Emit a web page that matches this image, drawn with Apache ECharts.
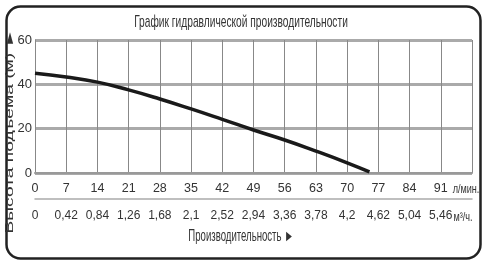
<!DOCTYPE html>
<html><head><meta charset="utf-8">
<script src="https://cdn.jsdelivr.net/npm/echarts@6/dist/echarts.min.js"></script>
<style>html,body{margin:0;padding:0;background:#fff}#c{width:484px;height:265px}</style>
</head><body><div id="c"></div>
<script>
var titleText = 'График гидравлической производительности';
var yName = 'Высота подъема (м) ►';
var xName = 'Производительность ►';
var flowLpmTicks = ['0','7','14','21','28','35','42','49','56','63','70','77','84','91',''];
var flowM3hTicks = ['0','0,42','0,84','1,26','1,68','2,1','2,52','2,94','3,36','3,78','4,2','4,62','5,04','5,46',''];
var unitLpm = 'л/мин.';
var unitM3h = 'м³/ч.';
var curveFlow = [0, 7, 14, 21, 28, 35, 42, 49, 56, 63, 70, 75];
var curveHead = [45, 43.3, 41, 37.5, 33.4, 28.9, 24.2, 19.4, 14.9, 9.9, 4.6, 0.5];

var font = '"Liberation Sans",Arial,sans-serif';
var chart = echarts.init(document.getElementById('c'));
chart.setOption({
  animation: false,
  backgroundColor: '#fff',
  grid: {left: 35, right: 12, top: 40, bottom: 92, outerBoundsMode: 'none', containLabel: false},
  xAxis: [{
    type: 'value', min: 0, max: 98, interval: 7, position: 'bottom',
    axisLine: {show: true, lineStyle: {color: '#999', width: 2}},
    axisTick: {show: false},
    splitLine: {show: true, lineStyle: {color: '#888', width: 1}},
    axisLabel: {margin: 9, fontFamily: font, fontSize: 12.5, color: '#333',
      formatter: function (v) { return flowLpmTicks[Math.round(v / 7)]; }}
  }, {
    type: 'value', min: 0, max: 98, interval: 7, position: 'bottom', offset: 26,
    axisLine: {show: true, lineStyle: {color: '#aaa', width: 1.5}},
    axisTick: {show: false}, splitLine: {show: false},
    axisLabel: {margin: 11, fontFamily: font, fontSize: 12, color: '#333',
      formatter: function (v) { return flowM3hTicks[Math.round(v / 7)]; }}
  }],
  yAxis: {
    type: 'value', min: 0, max: 60, interval: 20,
    axisLine: {show: true, lineStyle: {color: '#888', width: 1}},
    axisTick: {show: false},
    splitLine: {show: true, lineStyle: {color: '#aaa', width: 3}},
    axisLabel: {margin: 3, fontFamily: font, fontSize: 13, color: '#333'}
  },
  graphic: [
    {type: 'rect', left: 4, top: 4, shape: {width: 474, height: 252, r: 14},
      style: {fill: 'none', stroke: '#222', lineWidth: 2.5}, silent: true, z: -1},
    {type: 'text', x: 241, y: 22, scaleX: 0.6,
      style: {text: titleText, font: '17px ' + font, fill: '#333', align: 'center', verticalAlign: 'middle'}},
    {type: 'text', x: 241, y: 237, scaleX: 0.6,
      style: {text: xName, font: '16px ' + font, fill: '#333', align: 'center', verticalAlign: 'middle'}},
    {type: 'text', x: 10.5, y: 131, rotation: Math.PI / 2, scaleX: 1.83,
      style: {text: yName, font: '10.5px ' + font, fill: '#333', align: 'center', verticalAlign: 'middle'}},
    {type: 'text', x: 466, y: 189, scaleX: 0.7,
      style: {text: unitLpm, font: '13px ' + font, fill: '#333', align: 'center', verticalAlign: 'middle'}},
    {type: 'text', x: 463, y: 217, scaleX: 0.7,
      style: {text: unitM3h, font: '13px ' + font, fill: '#333', align: 'center', verticalAlign: 'middle'}}
  ],
  series: [{
    type: 'line', smooth: true, showSymbol: false, xAxisIndex: 0,
    lineStyle: {color: '#1a1a1a', width: 3.5},
    data: curveFlow.map(function (x, i) { return [x, curveHead[i]]; })
  }]
});
</script></body></html>
